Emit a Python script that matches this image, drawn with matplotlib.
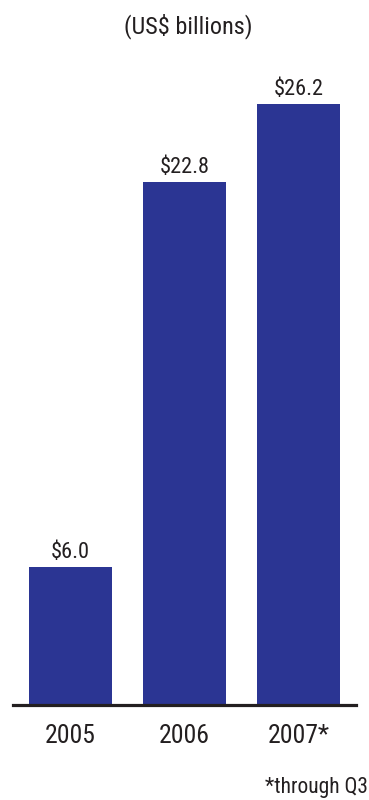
import matplotlib
matplotlib.use("Agg")
import matplotlib.pyplot as plt

years = ["2005", "2006", "2007*"]
values = [6.0, 22.8, 26.2]
value_labels = ["$6.0", "$22.8", "$26.2"]

fam = ["Roboto Condensed", "DejaVu Sans"]
tc = "#231f20"

W, H = 369, 800
fig = plt.figure(figsize=(W / 100, H / 100), dpi=100)
ax = fig.add_axes([13 / W, (H - 705) / H, (356 - 13) / W, (705 - 80) / H])

bar_color = "#2b3593"
x = list(range(len(years)))
ax.bar(x, values, width=0.728, color=bar_color, zorder=2)
ax.set_xlim(-0.504, 2.504)
ax.set_ylim(0, 625 / 22.95)

for s in ["top", "left", "right"]:
    ax.spines[s].set_visible(False)
ax.spines["bottom"].set_linewidth(2.3)
ax.spines["bottom"].set_color(tc)
ax.spines["bottom"].set_zorder(3)
ax.set_yticks([])
ax.set_xticks(x)
ax.set_xticklabels(years, fontsize=18.5, family=fam, color=tc)
ax.tick_params(axis="x", length=0, pad=13.5)

for xi, v, lab in zip(x, values, value_labels):
    ax.annotate(lab, (xi, v), xytext=(0, 3), textcoords="offset points",
                ha="center", va="bottom", fontsize=16, family=fam, color=tc)

fig.text(188 / W, 1 - 26 / H, "(US$ billions)", ha="center", va="center",
         fontsize=17.5, family=fam, color=tc)
fig.text(1 - 1 / W, 1 - 788 / H, "*through Q3", ha="right", va="center",
         fontsize=15.5, family=fam, color=tc)

fig.savefig("out.png", dpi=100)
